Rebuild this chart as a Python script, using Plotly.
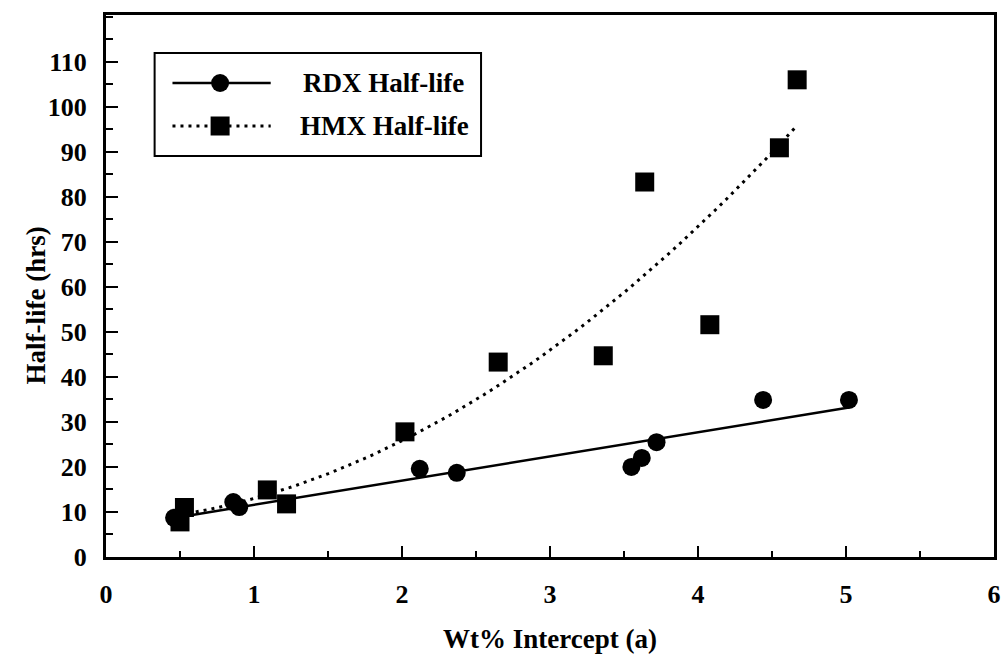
import numpy as np
import plotly.graph_objects as go

# Half-life measurements against the wt% intercept
rdx_x = [0.46, 0.86, 0.90, 2.12, 2.37, 3.55, 3.62, 3.72, 4.44, 5.02]
rdx_y = [8.7, 12.2, 11.1, 19.6, 18.7, 20.0, 22.0, 25.5, 34.9, 34.9]

hmx_x = [0.50, 0.53, 1.09, 1.22, 2.02, 2.65, 3.36, 3.64, 4.08, 4.55, 4.67]
hmx_y = [7.8, 11.0, 14.9, 11.8, 27.8, 43.3, 44.7, 83.3, 51.6, 90.9, 106.0]

x_ticks = [0, 1, 2, 3, 4, 5, 6]
y_ticks = [0, 10, 20, 30, 40, 50, 60, 70, 80, 90, 100, 110]

FONT = "Liberation Serif"

# Trend lines: linear for RDX, second-order polynomial for HMX
rdx_fit = np.poly1d(np.polyfit(rdx_x, rdx_y, 1))
hmx_fit = np.poly1d(np.polyfit(hmx_x, hmx_y, 2))
rdx_line_x = np.linspace(min(rdx_x), max(rdx_x), 50)
hmx_line_x = np.linspace(min(hmx_x), max(hmx_x), 80)

fig = go.Figure()
fig.add_trace(go.Scatter(x=rdx_line_x, y=rdx_fit(rdx_line_x), mode="lines",
                         line=dict(color="black", width=2.5), hoverinfo="skip"))
fig.add_trace(go.Scatter(x=hmx_line_x, y=hmx_fit(hmx_line_x), mode="lines",
                         line=dict(color="black", width=3, dash="3px,5px"), hoverinfo="skip"))
fig.add_trace(go.Scatter(x=rdx_x, y=rdx_y, mode="markers", name="RDX Half-life",
                         marker=dict(symbol="circle", size=18, color="black")))
fig.add_trace(go.Scatter(x=hmx_x, y=hmx_y, mode="markers", name="HMX Half-life",
                         marker=dict(symbol="square", size=19, color="black")))

axis_common = dict(
    showgrid=False, zeroline=False, showline=True, linecolor="black", linewidth=3,
    mirror=True, ticks="inside", tickcolor="black", tickwidth=2,
    tickfont=dict(family=FONT, size=26, color="black", weight="bold"),
)

fig.update_xaxes(range=[0, 6], tickvals=x_ticks, ticklen=11,
                 ticklabelstandoff=12,
                 minor=dict(dtick=0.5, ticks="inside", ticklen=6, tickwidth=1.5, tickcolor="black"),
                 **axis_common)
fig.update_yaxes(range=[0, 120.4], tickvals=y_ticks, ticklen=12,
                 ticklabelstandoff=11,
                 minor=dict(dtick=5, ticks="inside", ticklen=7, tickwidth=1.5, tickcolor="black"),
                 **axis_common)

# Legend box drawn in paper / pixel terms
W, H = 895.0, 542.0  # plot area size in px


def px(xp):
    return xp / W


def py(yp):
    return 1 - yp / H


shapes = [
    dict(type="rect", xref="paper", yref="paper",
         x0=px(49), x1=px(378), y0=py(38), y1=py(141),
         line=dict(color="black", width=2), fillcolor="white", layer="above"),
    dict(type="line", xref="paper", yref="paper",
         x0=px(67), x1=px(166), y0=py(68), y1=py(68),
         line=dict(color="black", width=2.5), layer="above"),
    dict(type="line", xref="paper", yref="paper",
         x0=px(67), x1=px(166), y0=py(111), y1=py(111),
         line=dict(color="black", width=3, dash="3px,5px"), layer="above"),
    dict(type="circle", xref="paper", yref="paper", xsizemode="pixel", ysizemode="pixel",
         xanchor=px(115), yanchor=py(68), x0=-9, x1=9, y0=-9, y1=9,
         line=dict(width=0), fillcolor="black", layer="above"),
    dict(type="rect", xref="paper", yref="paper", xsizemode="pixel", ysizemode="pixel",
         xanchor=px(115), yanchor=py(111), x0=-9.5, x1=9.5, y0=-9.5, y1=9.5,
         line=dict(width=0), fillcolor="black", layer="above"),
]

text_font = dict(family=FONT, size=27, color="black", weight="bold")
annotations = [
    dict(text="RDX Half-life", xref="paper", yref="paper", x=px(197), y=py(68),
         xanchor="left", yanchor="middle", showarrow=False, font=text_font),
    dict(text="HMX Half-life", xref="paper", yref="paper", x=px(194), y=py(111),
         xanchor="left", yanchor="middle", showarrow=False, font=text_font),
    dict(text="Wt% Intercept (a)", xref="paper", yref="paper", x=0.5, y=py(82 + H),
         xanchor="center", yanchor="middle", showarrow=False, font=text_font),
    dict(text="Half-life (hrs)", xref="paper", yref="paper", x=px(-71), y=py(291),
         xanchor="center", yanchor="middle", showarrow=False, textangle=-90,
         font=text_font),
]

fig.update_layout(
    width=1008, height=659,
    margin=dict(l=106, r=7, t=15, b=102),
    paper_bgcolor="white", plot_bgcolor="white",
    showlegend=False,
    shapes=shapes, annotations=annotations,
)

fig.write_html("out.html")
